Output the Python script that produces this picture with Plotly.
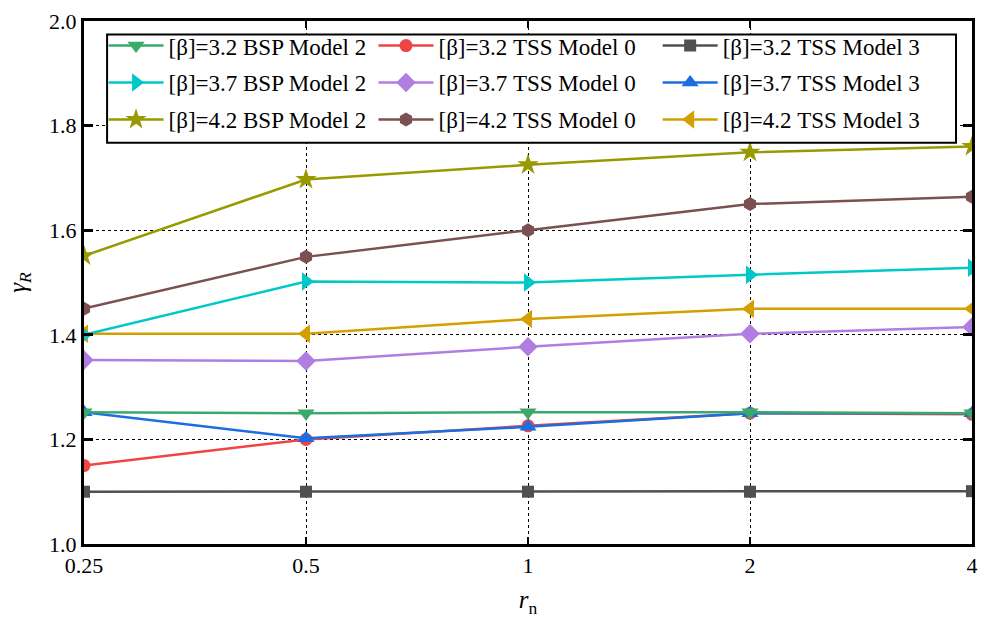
import plotly.graph_objects as go

# r_n sample points
r_n = [0.25, 0.5, 1, 2, 4]

# gamma_R per configuration
bsp2_32 = [1.252, 1.250, 1.252, 1.252, 1.250]
tss0_32 = [1.150, 1.200, 1.226, 1.250, 1.248]
tss3_32 = [1.100, 1.100, 1.100, 1.100, 1.101]
bsp2_37 = [1.400, 1.502, 1.500, 1.515, 1.528]
tss0_37 = [1.352, 1.350, 1.377, 1.402, 1.415]
tss3_37 = [1.252, 1.202, 1.224, 1.250, 1.250]
bsp2_42 = [1.551, 1.697, 1.725, 1.749, 1.760]
tss0_42 = [1.450, 1.549, 1.600, 1.650, 1.664]
tss3_42 = [1.402, 1.402, 1.430, 1.450, 1.450]

names = [
    "[β]=3.2 BSP Model 2", "[β]=3.2 TSS Model 0", "[β]=3.2 TSS Model 3",
    "[β]=3.7 BSP Model 2", "[β]=3.7 TSS Model 0", "[β]=3.7 TSS Model 3",
    "[β]=4.2 BSP Model 2", "[β]=4.2 TSS Model 0", "[β]=4.2 TSS Model 3",
]
values = [bsp2_32, tss0_32, tss3_32, bsp2_37, tss0_37, tss3_37, bsp2_42, tss0_42, tss3_42]
colors = ["#3aaa6c", "#f04444", "#505050", "#00c8c8", "#b07ee0", "#1a6ee0",
          "#999900", "#7a5050", "#d4a000"]
symbols = ["triangle-down", "circle", "square", "triangle-right", "diamond",
           "triangle-up", "star", "hexagon", "triangle-left"]
sizes = [15, 13, 12, 16, 15, 15, 16, 14, 16]

# legend columns: BSP Model 2 | TSS Model 0 | TSS Model 3
legend_ids = ["legend", "legend2", "legend3"]
legend_x = [0.022, 0.326, 0.646]

# drawing order (legend order kept via legendrank)
draw_order = [2, 1, 5, 0, 4, 8, 3, 7, 6]

fig = go.Figure()
for i in draw_order:
    fig.add_trace(go.Scatter(
        x=r_n, y=values[i], name=names[i], mode="lines+markers",
        line=dict(color=colors[i], width=2.5),
        marker=dict(symbol=symbols[i], size=sizes[i], color=colors[i]),
        legend=legend_ids[i % 3], legendrank=i + 1, legendgroup=str(i),
        cliponaxis=True,
    ))

serif = "Times New Roman, Liberation Serif, serif"
legend_style = dict(
    orientation="v", xanchor="left", yanchor="top", y=0.994,
    bgcolor="rgba(0,0,0,0)", borderwidth=0,
    font=dict(family=serif, size=23, color="black"),
    itemwidth=55, tracegroupgap=4, traceorder="grouped",
    itemsizing="trace",
)
layout_legends = {lid: dict(legend_style, x=xp) for lid, xp in zip(legend_ids, legend_x)}

fig.update_layout(
    width=987, height=622,
    margin=dict(l=84, r=9, t=14, b=78),
    plot_bgcolor="white", paper_bgcolor="white",
    font=dict(family=serif, size=22, color="black"),
    showlegend=True,
    **layout_legends,
    shapes=[dict(
        type="rect", xref="paper", yref="paper", layer="above",
        x0=0.026, x1=0.982, y0=0.767, y1=0.974,
        line=dict(color="black", width=2), fillcolor="white",
    )],
    xaxis=dict(
        type="log", range=[-0.60206, 0.60206],
        tickvals=r_n, ticktext=["0.25", "0.5", "1", "2", "4"],
        showline=True, linecolor="black", linewidth=3, mirror="ticks",
        ticks="inside", ticklen=7, tickwidth=2, tickcolor="black",
        showgrid=True, gridcolor="black", gridwidth=1, griddash="dot",
        zeroline=False,
        title=dict(text="<i>r</i><sub>n</sub>", standoff=14,
                   font=dict(family=serif, size=25)),
    ),
    yaxis=dict(
        range=[1.0, 2.0], tickvals=[1.0, 1.2, 1.4, 1.6, 1.8, 2.0],
        tickformat=".1f",
        showline=True, linecolor="black", linewidth=3, mirror="ticks",
        ticks="inside", ticklen=9, tickwidth=3, tickcolor="black",
        showgrid=True, gridcolor="black", gridwidth=1, griddash="dot",
        zeroline=False,
        title=dict(text="<i>γ<sub>R</sub></i>", standoff=16,
                   font=dict(family=serif, size=25)),
    ),
)

fig.write_html("out.html")
